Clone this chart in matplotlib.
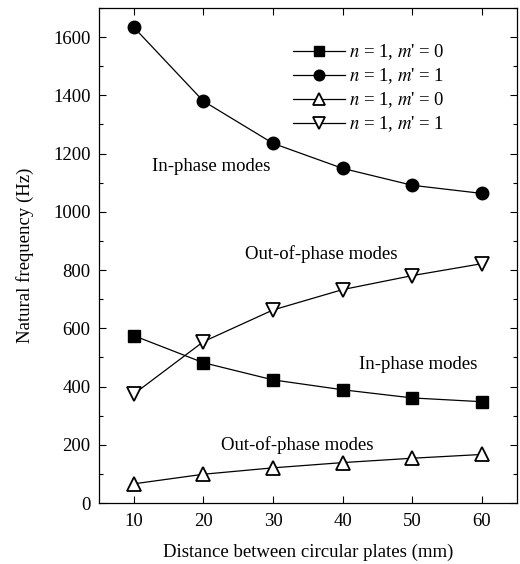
import matplotlib
matplotlib.use("Agg")
import matplotlib.pyplot as plt
from matplotlib.ticker import MultipleLocator

plt.rcParams["font.family"] = "Liberation Serif"
plt.rcParams["mathtext.fontset"] = "stix"

# distance between plates (mm)
distance = [10, 20, 30, 40, 50, 60]

# natural frequencies (Hz)
in_m0 = [575, 482, 423, 389, 361, 348]      # filled squares
in_m1 = [1634, 1380, 1235, 1149, 1091, 1063]  # filled circles
out_m0 = [66, 99, 121, 139, 154, 167]       # open up-triangles
out_m1 = [374, 554, 663, 733, 781, 822]     # open down-triangles

labels = [r"$n$ = 1, $m$' = 0", r"$n$ = 1, $m$' = 1",
          r"$n$ = 1, $m$' = 0", r"$n$ = 1, $m$' = 1"]

fs = 13.5

fig = plt.figure(figsize=(5.2, 5.64), dpi=100)
ax = fig.add_axes([0.190, 0.108, 0.804, 0.878])

lw = 0.9
ax.plot(distance, in_m0, color="black", lw=lw, marker="s", ms=8,
        mfc="black", mec="black", label=labels[0])
ax.plot(distance, in_m1, color="black", lw=lw, marker="o", ms=9,
        mfc="black", mec="black", label=labels[1])
ax.plot(distance, out_m0, color="black", lw=lw, marker="^", ms=10,
        mfc="white", mec="black", mew=1.3, label=labels[2])
ax.plot(distance, out_m1, color="black", lw=lw, marker="v", ms=10,
        mfc="white", mec="black", mew=1.3, label=labels[3])

ax.set_xlim(5, 65)
ax.set_ylim(0, 1700)
ax.xaxis.set_major_locator(MultipleLocator(10))
ax.yaxis.set_major_locator(MultipleLocator(200))
ax.yaxis.set_minor_locator(MultipleLocator(100))
ax.tick_params(which="both", direction="in", top=True, right=True,
               labelsize=fs, width=0.8)
ax.tick_params(which="major", length=5, pad=7)
ax.tick_params(which="minor", length=3)
ax.tick_params(axis="y", which="major", pad=6)
for s in ax.spines.values():
    s.set_linewidth(0.9)

ax.set_xlabel("Distance between circular plates (mm)", fontsize=fs,
              labelpad=10)
ax.set_ylabel("Natural frequency (Hz)", fontsize=fs, labelpad=14)

ax.text(21.1, 1156, "In-phase modes", fontsize=fs, ha="center", va="center")
ax.text(36.9, 855, "Out-of-phase modes", fontsize=fs, ha="center", va="center")
ax.text(50.9, 475, "In-phase modes", fontsize=fs, ha="center", va="center")
ax.text(33.5, 200, "Out-of-phase modes", fontsize=fs, ha="center", va="center")

ax.legend(loc="upper left", bbox_to_anchor=(0.464, 0.93), frameon=False,
          fontsize=fs, handlelength=2.8, handletextpad=0.2,
          labelspacing=0.22, borderaxespad=0, borderpad=0, markerscale=0.85)

fig.savefig("out.png", dpi=100)
